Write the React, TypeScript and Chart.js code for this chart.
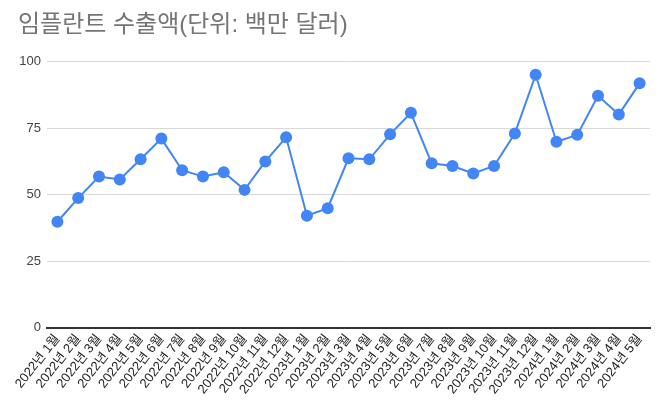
import { useEffect, useRef } from 'react';
import Chart from 'chart.js/auto';

const TITLE = '임플란트 수출액(단위: 백만 달러)';

const months = [
  '2022년 1월', '2022년 2월', '2022년 3월', '2022년 4월', '2022년 5월', '2022년 6월',
  '2022년 7월', '2022년 8월', '2022년 9월', '2022년 10월', '2022년 11월', '2022년 12월',
  '2023년 1월', '2023년 2월', '2023년 3월', '2023년 4월', '2023년 5월', '2023년 6월',
  '2023년 7월', '2023년 8월', '2023년 9월', '2023년 10월', '2023년 11월', '2023년 12월',
  '2024년 1월', '2024년 2월', '2024년 3월', '2024년 4월', '2024년 5월',
];

const exports = [
  39.8, 48.7, 56.8, 55.7, 63.3, 71.1,
  59.2, 56.8, 58.4, 51.8, 62.5, 71.6,
  42.1, 44.9, 63.7, 63.3, 72.7, 80.8,
  61.8, 60.8, 58.0, 60.8, 73.0, 95.1,
  69.9, 72.5, 87.2, 80.2, 91.9,
];

const yTicks = [0, 25, 50, 75, 100];

const FONT = 'Arial, "Liberation Sans", "Noto Sans CJK KR", sans-serif';

export default function App() {
  const canvasRef = useRef<HTMLCanvasElement | null>(null);
  const chartRef = useRef<Chart | null>(null);

  useEffect(() => {
    if (!canvasRef.current) return;
    if (chartRef.current) chartRef.current.destroy();

    chartRef.current = new Chart(canvasRef.current, {
      type: 'line',
      data: {
        labels: months,
        datasets: [{
          data: exports,
          borderColor: '#4285f4',
          backgroundColor: '#4285f4',
          borderWidth: 2,
          pointRadius: 6,
          pointBorderWidth: 0,
          tension: 0,
        }],
      },
      options: {
        responsive: false,
        animation: false,
        layout: { padding: { left: 18, right: 16, top: 5, bottom: 6 } },
        plugins: {
          legend: { display: false },
          tooltip: { enabled: false },
          title: {
            display: true,
            text: TITLE,
            align: 'start',
            color: '#757575',
            font: { family: FONT, size: 24, weight: 'normal' },
            padding: { top: 6, bottom: 22 },
          },
        },
        scales: {
          x: {
            offset: true,
            grid: { display: false, drawTicks: false },
            border: { display: true, color: '#333333', width: 2 },
            ticks: {
              color: '#222222',
              font: { family: FONT, size: 13 },
              minRotation: 52,
              maxRotation: 52,
              autoSkip: false,
              padding: 4,
            },
            // let the y axis decide the left edge, not the first rotated label
            afterFit: (axis: any) => {
              axis.paddingLeft = 0;
              axis.paddingRight = 0;
            },
          },
          y: {
            min: 0,
            max: 100,
            afterBuildTicks: (axis: any) => {
              axis.ticks = yTicks.map(v => ({ value: v }));
            },
            afterFit: (axis: any) => {
              axis.width = 29;
            },
            grid: { color: '#d9d9d9', drawTicks: false },
            border: { display: false },
            ticks: {
              color: '#444444',
              font: { family: FONT, size: 13 },
              padding: 6,
            },
          },
        },
      },
    });

    return () => {
      if (chartRef.current) {
        chartRef.current.destroy();
        chartRef.current = null;
      }
    };
  }, []);

  return (
    <div style={{ position: 'absolute', left: 0, top: 0, width: 666, height: 407, background: '#fff' }}>
      <canvas ref={canvasRef} width={666} height={407} />
    </div>
  );
}
